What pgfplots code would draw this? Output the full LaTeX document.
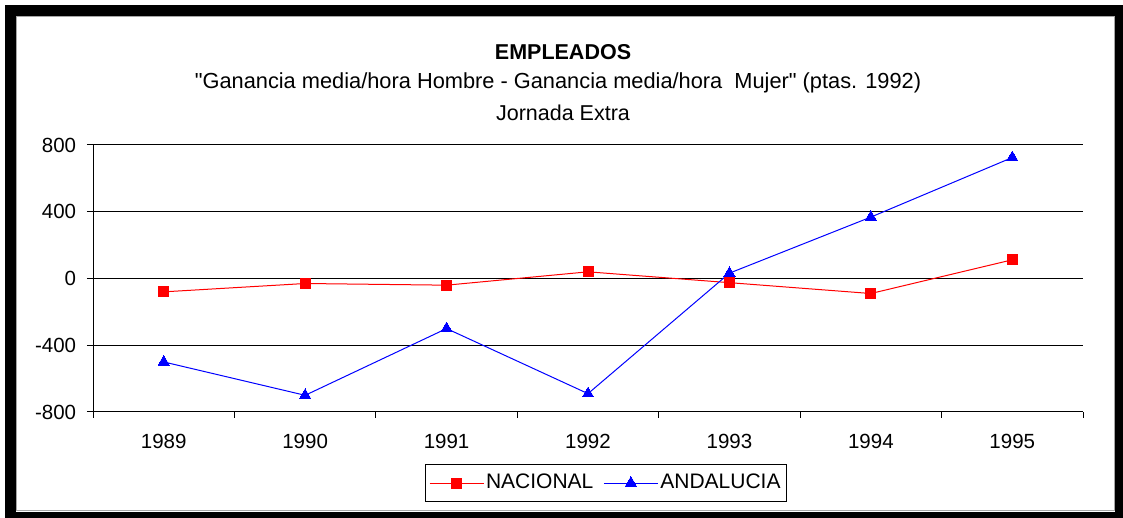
\documentclass[border=0pt]{standalone}
\usepackage{fontspec}
\setmainfont{Liberation Sans}[Ligatures=TeXOff]
\usepackage{pgfplots}
\pgfplotsset{compat=1.18}
\begin{document}
\fontsize{20}{24}\selectfont
\begin{tikzpicture}[x=1pt,y=1pt]
\useasboundingbox (0,0) rectangle (1123,518);
\fill[white] (0,0) rectangle (1123,518);
\fill[black] (5,0) rectangle (1123,513);
\fill[white] (16,6) rectangle (1115,502);
\draw[gray!70,line width=0.8pt] (16.4,7.4) rectangle (1114.6,501.6);
\node[font=\fontsize{21.5}{25}\selectfont\bfseries] at (563,466) {EMPLEADOS};
\node[font=\fontsize{21.8}{25}\selectfont] at (558,435) {"Ganancia media/hora Hombre - Ganancia media/hora\ \ Mujer" (ptas. 1992)};
\node[font=\fontsize{21.5}{25}\selectfont] at (563,405) {Jornada Extra};
\begin{axis}[
  at={(93pt,106pt)}, anchor=south west,
  scale only axis, width=990pt, height=267pt,
  xmin=-0.5, xmax=6.5, ymin=-800, ymax=800,
  axis x line=bottom, axis y line=left,
  axis line style={black, line width=1pt, -},
  xtick={0,1,2,3,4,5,6},
  xticklabels={1989,1990,1991,1992,1993,1994,1995},
  minor xtick={-0.5,0.5,1.5,2.5,3.5,4.5,5.5,6.5},
  major x tick style={draw=none},
  minor tick length=6pt,
  ytick={-800,-400,0,400,800},
  yticklabels={-800,-400,0,400,800},
  major tick length=6pt,
  tick align=outside,
  tick style={black, line width=1pt},
  ymajorgrids,
  grid style={black, line width=1pt},
  every tick label/.append style={font=\fontsize{20.5}{24}\selectfont},
  xticklabel style={yshift=-9pt},
  yticklabel style={xshift=-4pt},
  clip=false,
  legend columns=2,
  legend style={at={(0.518,-0.266)}, anchor=center, draw=black, line width=1pt,
    font=\fontsize{21}{25}\selectfont, inner xsep=4pt, inner ysep=8pt,
    /tikz/every even column/.append style={column sep=8pt}},
  legend cell align=left,
  legend image code/.code={\draw[mark repeat=2,mark phase=2] plot coordinates {(-2pt,0pt) (25pt,0pt) (52pt,0pt)};},
]
\addplot[red, line width=1pt, mark=square*, mark size=5pt, mark options={solid, line width=0pt}]
  coordinates {(0,-80) (1,-30) (2,-40) (3,40) (4,-25) (5,-90) (6,112)};
\addlegendentry{NACIONAL}
\addplot[blue, line width=1pt, mark=triangle*, mark size=6.5pt, mark options={solid, line width=0pt}]
  coordinates {(0,-500) (1,-700) (2,-300) (3,-690) (4,32) (5,368) (6,725)};
\addlegendentry{ANDALUCIA}
\end{axis}
\end{tikzpicture}
\end{document}
